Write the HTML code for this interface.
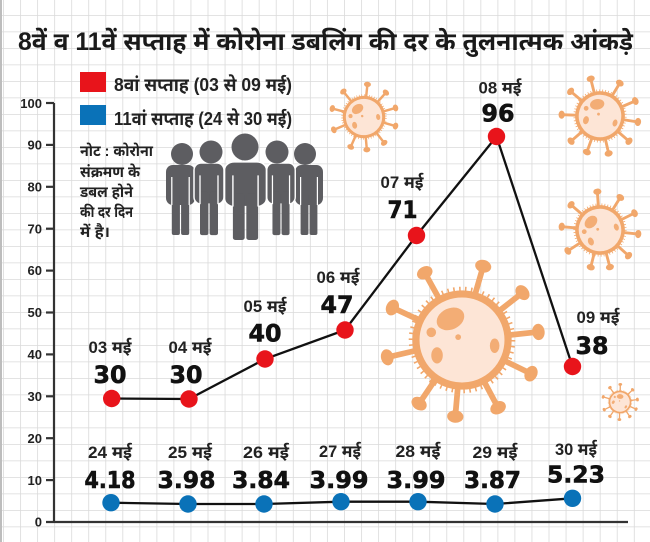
<!DOCTYPE html>
<html><head><meta charset="utf-8">
<style>
html,body{margin:0;padding:0;background:#fff;}
svg{display:block;}
.dv{font-family:"Liberation Sans","Noto Sans Devanagari","Lohit Devanagari","FreeSans","Noto Sans CJK SC",sans-serif;}
.num{font-family:"DejaVu Sans","Liberation Sans",sans-serif;font-weight:bold;fill:#111;stroke:#111;stroke-width:0.6;}
.ax{font-family:"Liberation Sans",sans-serif;font-weight:bold;font-size:13px;fill:#222;}
</style></head>
<body>
<svg width="650" height="542" viewBox="0 0 650 542" xmlns="http://www.w3.org/2000/svg">
<defs>
<pattern id="grid" x="3" y="15" width="17.05" height="16.5" patternUnits="userSpaceOnUse">
<line x1="0" y1="0" x2="0" y2="16.5" stroke="#dadada" stroke-width="1.6"/>
<line x1="0" y1="0" x2="17.05" y2="0" stroke="#dadada" stroke-width="1.6"/>
</pattern>
<g id="v">
<g stroke="#f1a76b" stroke-width="6" stroke-linecap="round">
<line x1="-24.2" y1="-43.7" x2="-38.8" y2="-70"/>
<line x1="13.8" y1="-48.1" x2="22.1" y2="-76.9"/>
<line x1="39.4" y1="-30.8" x2="63" y2="-49.3"/>
<line x1="49.7" y1="-5.2" x2="79.6" y2="-8.4"/>
<line x1="44.9" y1="21.9" x2="71.9" y2="35.1"/>
<line x1="23.5" y1="44.1" x2="37.6" y2="70.6"/>
<line x1="-4.4" y1="49.8" x2="-7" y2="79.7"/>
<line x1="-28" y1="41.5" x2="-44.7" y2="66.3"/>
<line x1="-48.7" y1="11.2" x2="-77.9" y2="18"/>
<line x1="-45.3" y1="-21.1" x2="-72.5" y2="-33.8"/>
</g>
<g fill="#f1a76b">
<ellipse cx="-38.8" cy="-70" rx="8.5" ry="6.5" transform="rotate(-29 -38.8 -70)"/>
<ellipse cx="22.1" cy="-76.9" rx="8.5" ry="6.5" transform="rotate(16 22.1 -76.9)"/>
<ellipse cx="63" cy="-49.3" rx="8.5" ry="6.5" transform="rotate(52 63 -49.3)"/>
<ellipse cx="79.6" cy="-8.4" rx="8.5" ry="6.5" transform="rotate(84 79.6 -8.4)"/>
<ellipse cx="71.9" cy="35.1" rx="8.5" ry="6.5" transform="rotate(116 71.9 35.1)"/>
<ellipse cx="37.6" cy="70.6" rx="8.5" ry="6.5" transform="rotate(152 37.6 70.6)"/>
<ellipse cx="-7" cy="79.7" rx="8.5" ry="6.5" transform="rotate(5 -7 79.7)"/>
<ellipse cx="-44.7" cy="66.3" rx="8.5" ry="6.5" transform="rotate(34 -44.7 66.3)"/>
<ellipse cx="-77.9" cy="18" rx="8.5" ry="6.5" transform="rotate(77 -77.9 18)"/>
<ellipse cx="-72.5" cy="-33.8" rx="8.5" ry="6.5" transform="rotate(115 -72.5 -33.8)"/>
</g>
<circle r="52.5" fill="none" stroke="#f1a76b" stroke-width="6" stroke-dasharray="1.6 4.5"/>
<circle r="48" fill="#fde5d6" stroke="#f1a76b" stroke-width="7.5"/>
<g fill="#f3ad75">
<ellipse cx="-12" cy="-22" rx="15" ry="11" transform="rotate(-25 -12 -22)"/>
<circle cx="-32" cy="-8" r="5"/>
<ellipse cx="-26" cy="16" rx="6" ry="8.5"/>
<ellipse cx="34" cy="6" rx="5" ry="7.5"/>
<circle cx="-4" cy="-3" r="3"/>
</g>
</g>
</defs>

<rect width="650" height="542" fill="#fff"/>
<rect width="650" height="542" fill="url(#grid)"/>
<line x1="1" y1="0" x2="1" y2="542" stroke="#bdbdbd" stroke-width="2"/>

<!-- viruses -->
<use href="#v" transform="translate(364,117) scale(0.41) rotate(-10)"/>
<use href="#v" transform="translate(600,116) scale(0.48) rotate(15)"/>
<use href="#v" transform="translate(600,230) scale(0.48) rotate(-20)"/>
<use href="#v" transform="translate(462,340) scale(0.96)"/>
<use href="#v" transform="translate(620,402) scale(0.22) rotate(30)"/>

<!-- title -->
<text class="dv" x="18" y="50" font-size="25" font-weight="bold" fill="#1a1a1a" textLength="615" lengthAdjust="spacingAndGlyphs">8वें व 11वें सप्ताह में कोरोना डबलिंग की दर के तुलनात्मक आंकड़े</text>

<!-- legend -->
<rect x="80" y="72" width="26" height="20" fill="#e8141b"/>
<rect x="80" y="105" width="26" height="20" fill="#0a72b8"/>
<text class="dv" x="114" y="91" font-size="18" font-weight="bold" fill="#222" textLength="178" lengthAdjust="spacingAndGlyphs">8वां सप्ताह (03 से 09 मई)</text>
<text class="dv" x="114" y="125" font-size="18" font-weight="bold" fill="#222" textLength="178" lengthAdjust="spacingAndGlyphs">11वां सप्ताह (24 से 30 मई)</text>

<!-- note -->
<g class="dv" font-size="15" font-weight="bold" fill="#222">
<text x="80" y="156" textLength="73" lengthAdjust="spacingAndGlyphs">नोट : कोरोना</text>
<text x="80" y="177" textLength="60" lengthAdjust="spacingAndGlyphs">संक्रमण के</text>
<text x="80" y="197" textLength="53" lengthAdjust="spacingAndGlyphs">डबल होने</text>
<text x="80" y="217" textLength="53" lengthAdjust="spacingAndGlyphs">की दर दिन</text>
<text x="80" y="237" textLength="30" lengthAdjust="spacingAndGlyphs">में है।</text>
</g>

<!-- people -->
<g fill="#5d5d61">
<g transform="translate(180.5,165) scale(0.967,1)">
<rect x="-15" y="0" width="30" height="40" rx="7"/>
<rect x="-9" y="28" width="8.4" height="42" rx="2"/><rect x="0.6" y="28" width="8.4" height="42" rx="2"/>
<line x1="-9" y1="12" x2="-9" y2="40" stroke="#fff" stroke-width="1.3"/><line x1="9" y1="12" x2="9" y2="40" stroke="#fff" stroke-width="1.3"/>
</g>
<circle cx="182" cy="154" r="11"/>
<g transform="translate(309,165) scale(0.933,1)">
<rect x="-15" y="0" width="30" height="40" rx="7"/>
<rect x="-9" y="28" width="8.4" height="42" rx="2"/><rect x="0.6" y="28" width="8.4" height="42" rx="2"/>
<line x1="-9" y1="12" x2="-9" y2="40" stroke="#fff" stroke-width="1.3"/><line x1="9" y1="12" x2="9" y2="40" stroke="#fff" stroke-width="1.3"/>
</g>
<circle cx="305" cy="154" r="11"/>
<g transform="translate(209,163) scale(1,1.03)">
<rect x="-15" y="0" width="30" height="40" rx="7" stroke="#fff" stroke-width="1.5"/>
<rect x="-9" y="28" width="8.4" height="42" rx="2"/><rect x="0.6" y="28" width="8.4" height="42" rx="2"/>
<line x1="-9" y1="12" x2="-9" y2="40" stroke="#fff" stroke-width="1.3"/><line x1="9" y1="12" x2="9" y2="40" stroke="#fff" stroke-width="1.3"/>
</g>
<circle cx="211" cy="152" r="11.5"/>
<g transform="translate(281,163) scale(0.95,1.03)">
<rect x="-15" y="0" width="30" height="40" rx="7" stroke="#fff" stroke-width="1.5"/>
<rect x="-9" y="28" width="8.4" height="42" rx="2"/><rect x="0.6" y="28" width="8.4" height="42" rx="2"/>
<line x1="-9" y1="12" x2="-9" y2="40" stroke="#fff" stroke-width="1.3"/><line x1="9" y1="12" x2="9" y2="40" stroke="#fff" stroke-width="1.3"/>
</g>
<circle cx="277" cy="152" r="11.5"/>
<g transform="translate(245.5,162) scale(1.4,1.114)">
<rect x="-15" y="0" width="30" height="40" rx="7" stroke="#fff" stroke-width="1.2"/>
<rect x="-9" y="28" width="8.4" height="42" rx="2"/><rect x="0.6" y="28" width="8.4" height="42" rx="2"/>
<line x1="-9" y1="12" x2="-9" y2="40" stroke="#fff" stroke-width="1"/><line x1="9" y1="12" x2="9" y2="40" stroke="#fff" stroke-width="1"/>
</g>
<circle cx="245" cy="147" r="13.5"/>
</g>

<!-- axes -->
<g stroke="#333" stroke-width="2.2" fill="none">
<line x1="54" y1="103" x2="54" y2="522"/>
<line x1="46" y1="522" x2="628" y2="522"/>
<line x1="46" y1="103" x2="54" y2="103"/>
<line x1="46" y1="144.9" x2="54" y2="144.9"/>
<line x1="46" y1="186.8" x2="54" y2="186.8"/>
<line x1="46" y1="228.7" x2="54" y2="228.7"/>
<line x1="46" y1="270.6" x2="54" y2="270.6"/>
<line x1="46" y1="312.5" x2="54" y2="312.5"/>
<line x1="46" y1="354.4" x2="54" y2="354.4"/>
<line x1="46" y1="396.3" x2="54" y2="396.3"/>
<line x1="46" y1="438.2" x2="54" y2="438.2"/>
<line x1="46" y1="480.1" x2="54" y2="480.1"/>
</g>
<g class="ax" text-anchor="end">
<text x="42" y="108">100</text>
<text x="42" y="149.5">90</text>
<text x="42" y="191.5">80</text>
<text x="42" y="233.5">70</text>
<text x="42" y="275">60</text>
<text x="42" y="317">50</text>
<text x="42" y="359">40</text>
<text x="42" y="401">30</text>
<text x="42" y="443">20</text>
<text x="42" y="485">10</text>
<text x="42" y="526.5">0</text>
</g>

<!-- series lines -->
<polyline points="111.7,398.5 189,399 265,359 345,330 416.5,235.5 496.5,136.5 572.5,366.5" fill="none" stroke="#111" stroke-width="2.3"/>
<polyline points="111,502.7 188,504 264,504 341,501.7 418,501.7 495,504 572.5,498.3" fill="none" stroke="#111" stroke-width="2.3"/>

<!-- red dots -->
<g fill="#e8141b">
<circle cx="111.7" cy="398.5" r="8.7"/>
<circle cx="189" cy="399" r="8.7"/>
<circle cx="265" cy="359" r="8.7"/>
<circle cx="345" cy="330" r="8.7"/>
<circle cx="416.5" cy="235.5" r="8.7"/>
<circle cx="496.5" cy="136.5" r="8.7"/>
<circle cx="572.5" cy="366.5" r="8.7"/>
</g>
<!-- blue dots -->
<g fill="#0a72b8">
<circle cx="111" cy="502.7" r="8.7"/>
<circle cx="188" cy="504" r="8.7"/>
<circle cx="264" cy="504" r="8.7"/>
<circle cx="341" cy="501.7" r="8.7"/>
<circle cx="418" cy="501.7" r="8.7"/>
<circle cx="495" cy="504" r="8.7"/>
<circle cx="572.5" cy="498.3" r="8.7"/>
</g>

<!-- red labels -->
<g class="dv" font-size="17" font-weight="bold" fill="#222" text-anchor="middle">
<text x="110" y="353" textLength="43" lengthAdjust="spacingAndGlyphs">03 मई</text>
<text x="190" y="353" textLength="43" lengthAdjust="spacingAndGlyphs">04 मई</text>
<text x="265" y="312" textLength="43" lengthAdjust="spacingAndGlyphs">05 मई</text>
<text x="338" y="283" textLength="43" lengthAdjust="spacingAndGlyphs">06 मई</text>
<text x="402" y="188" textLength="43" lengthAdjust="spacingAndGlyphs">07 मई</text>
<text x="500" y="93.5" textLength="43" lengthAdjust="spacingAndGlyphs">08 मई</text>
<text x="598" y="323" textLength="43" lengthAdjust="spacingAndGlyphs">09 मई</text>
</g>
<g class="num" font-size="24" text-anchor="middle">
<text x="110" y="383" textLength="33" lengthAdjust="spacingAndGlyphs">30</text>
<text x="186" y="383" textLength="33" lengthAdjust="spacingAndGlyphs">30</text>
<text x="265" y="341.7" textLength="33" lengthAdjust="spacingAndGlyphs">40</text>
<text x="337" y="313" textLength="33" lengthAdjust="spacingAndGlyphs">47</text>
<text x="402.5" y="218" textLength="30" lengthAdjust="spacingAndGlyphs">71</text>
<text x="498" y="121.7" textLength="33" lengthAdjust="spacingAndGlyphs">96</text>
<text x="592" y="354" textLength="33" lengthAdjust="spacingAndGlyphs">38</text>
</g>

<!-- blue labels -->
<g class="dv" font-size="17" font-weight="bold" fill="#222" text-anchor="middle">
<text x="110" y="458" textLength="44" lengthAdjust="spacingAndGlyphs">24 मई</text>
<text x="190" y="458" textLength="44" lengthAdjust="spacingAndGlyphs">25 मई</text>
<text x="266" y="458" textLength="46" lengthAdjust="spacingAndGlyphs">26 मई</text>
<text x="340" y="457" textLength="42" lengthAdjust="spacingAndGlyphs">27 मई</text>
<text x="418" y="457" textLength="45" lengthAdjust="spacingAndGlyphs">28 मई</text>
<text x="495" y="458" textLength="45" lengthAdjust="spacingAndGlyphs">29 मई</text>
<text x="576" y="455" textLength="42" lengthAdjust="spacingAndGlyphs">30 मई</text>
</g>
<g class="num" font-size="23" text-anchor="middle">
<text x="110" y="488" textLength="51" lengthAdjust="spacingAndGlyphs">4.18</text>
<text x="186.5" y="488" textLength="58" lengthAdjust="spacingAndGlyphs">3.98</text>
<text x="261" y="488" textLength="58" lengthAdjust="spacingAndGlyphs">3.84</text>
<text x="339" y="488" textLength="59" lengthAdjust="spacingAndGlyphs">3.99</text>
<text x="416" y="488" textLength="59" lengthAdjust="spacingAndGlyphs">3.99</text>
<text x="492.5" y="488" textLength="57" lengthAdjust="spacingAndGlyphs">3.87</text>
<text x="576" y="482.5" textLength="58" lengthAdjust="spacingAndGlyphs">5.23</text>
</g>
</svg>
</body></html>
